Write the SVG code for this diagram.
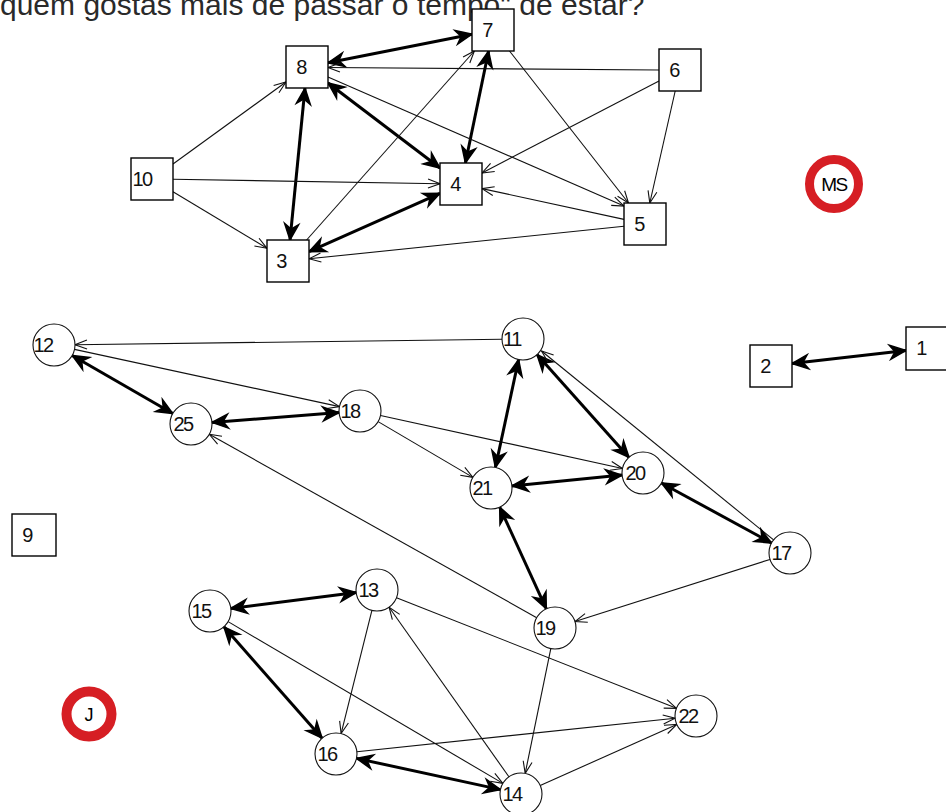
<svg xmlns="http://www.w3.org/2000/svg" width="946" height="812" viewBox="0 0 946 812">
<style>
.t{fill:none;stroke:#111;stroke-width:1.1}
.k{fill:none;stroke:#000;stroke-width:3}
.sq{fill:#fff;stroke:#000;stroke-width:1.4}
.ci{fill:#fff;stroke:#111;stroke-width:1.1}
.lb{font-family:"Liberation Sans",Arial,sans-serif;font-size:20px;fill:#111;text-anchor:middle;letter-spacing:-1.5px}
.red{fill:#fff;stroke:#d61e24}
.rl{font-family:"Liberation Sans",Arial,sans-serif;fill:#000;text-anchor:middle}
.title{font-family:"Liberation Sans",Arial,sans-serif;font-size:30px;fill:#2a2a2a}
</style>
<defs>
<marker id="ta" viewBox="-13 -6 14 12" refX="0" refY="0" markerWidth="14" markerHeight="12" markerUnits="userSpaceOnUse" orient="auto-start-reverse">
<path d="M-12,-4.5 L0,0 L-12,4.5" fill="none" stroke="#111" stroke-width="1.1"/>
</marker>
<marker id="ka" viewBox="-19 -9 20 18" refX="0" refY="0" markerWidth="20" markerHeight="18" markerUnits="userSpaceOnUse" orient="auto-start-reverse">
<path d="M-16,-7 L0,0 L-16,7 L-11,0 Z" fill="#000" stroke="#000" stroke-width="1.5"/>
</marker>
</defs>
<rect width="946" height="812" fill="#fff"/>
<text class="title" x="0" y="15">quem gostas mais de passar o tempo" de estar?</text>

<g id="connectors">
<line class="k" x1="328" y1="62.8" x2="472" y2="34.2" marker-start="url(#ka)" marker-end="url(#ka)"/>
<line class="t" x1="659" y1="70" x2="328" y2="67.5" marker-end="url(#ta)"/>
<line class="k" x1="328" y1="83" x2="440" y2="168" marker-start="url(#ka)" marker-end="url(#ka)"/>
<line class="k" x1="305" y1="88" x2="290" y2="240" marker-start="url(#ka)" marker-end="url(#ka)"/>
<line class="t" x1="173" y1="164" x2="286" y2="82" marker-end="url(#ta)"/>
<line class="t" x1="173" y1="179.3" x2="440" y2="183.7" marker-end="url(#ta)"/>
<line class="t" x1="173" y1="191.7" x2="267" y2="248.3" marker-end="url(#ta)"/>
<line class="k" x1="465.4" y1="163" x2="488.6" y2="51" marker-start="url(#ka)" marker-end="url(#ka)"/>
<line class="k" x1="309" y1="251.7" x2="440" y2="193.3" marker-start="url(#ka)" marker-end="url(#ka)"/>
<line class="t" x1="306.6" y1="240" x2="474.4" y2="51" marker-end="url(#ta)"/>
<line class="t" x1="509.5" y1="51" x2="628.5" y2="203" marker-end="url(#ta)"/>
<line class="t" x1="659" y1="80.9" x2="482" y2="173" marker-end="url(#ta)"/>
<line class="t" x1="675.2" y1="91" x2="649.8" y2="203" marker-end="url(#ta)"/>
<line class="t" x1="624" y1="219.4" x2="482" y2="188.6" marker-end="url(#ta)"/>
<line class="t" x1="624" y1="226.2" x2="309" y2="258.8" marker-end="url(#ta)"/>
<line class="t" x1="328" y1="77" x2="624" y2="206" marker-end="url(#ta)"/>
<line class="k" x1="792" y1="363.6" x2="906" y2="350.4" marker-start="url(#ka)" marker-end="url(#ka)"/>
<line class="t" x1="502" y1="339.3" x2="75" y2="344.7" marker-end="url(#ta)"/>
<line class="k" x1="72.2" y1="355.5" x2="172.8" y2="413.5" marker-start="url(#ka)" marker-end="url(#ka)"/>
<line class="t" x1="74.5" y1="349.4" x2="339.5" y2="406.6" marker-end="url(#ta)"/>
<line class="k" x1="212" y1="422.4" x2="339" y2="412.6" marker-start="url(#ka)" marker-end="url(#ka)"/>
<line class="t" x1="536.7" y1="617.7" x2="209.3" y2="434.3" marker-end="url(#ta)"/>
<line class="t" x1="378.1" y1="421.6" x2="472.9" y2="477.4" marker-end="url(#ta)"/>
<line class="t" x1="380.5" y1="415.5" x2="622.5" y2="468.5" marker-end="url(#ta)"/>
<line class="k" x1="518.6" y1="359.5" x2="495.4" y2="467.5" marker-start="url(#ka)" marker-end="url(#ka)"/>
<line class="k" x1="537" y1="354.6" x2="629" y2="457.4" marker-start="url(#ka)" marker-end="url(#ka)"/>
<line class="t" x1="773.6" y1="539.9" x2="541.5" y2="351" marker-end="url(#ta)"/>
<line class="k" x1="511.9" y1="485.9" x2="622.1" y2="475.1" marker-start="url(#ka)" marker-end="url(#ka)"/>
<line class="k" x1="661.4" y1="483" x2="771.6" y2="543" marker-start="url(#ka)" marker-end="url(#ka)"/>
<line class="k" x1="499.7" y1="507.1" x2="546.3" y2="608.9" marker-start="url(#ka)" marker-end="url(#ka)"/>
<line class="t" x1="770" y1="559.4" x2="575" y2="621.6" marker-end="url(#ta)"/>
<line class="k" x1="230.8" y1="608.4" x2="356.2" y2="592.6" marker-start="url(#ka)" marker-end="url(#ka)"/>
<line class="k" x1="223.9" y1="626.8" x2="322.1" y2="738.2" marker-start="url(#ka)" marker-end="url(#ka)"/>
<line class="t" x1="228.1" y1="621.6" x2="502.9" y2="783.4" marker-end="url(#ta)"/>
<line class="t" x1="371.9" y1="610.4" x2="341.1" y2="733.6" marker-end="url(#ta)"/>
<line class="t" x1="396.5" y1="597.7" x2="676.5" y2="708.3" marker-end="url(#ta)"/>
<line class="t" x1="508.9" y1="776.8" x2="389.1" y2="607.2" marker-end="url(#ta)"/>
<line class="t" x1="550.8" y1="648.6" x2="525.2" y2="773.4" marker-end="url(#ta)"/>
<line class="t" x1="356.9" y1="751.8" x2="675.1" y2="718.2" marker-end="url(#ta)"/>
<line class="t" x1="540.2" y1="785.5" x2="676.8" y2="724.5" marker-end="url(#ta)"/>
<line class="k" x1="356.5" y1="758.4" x2="500.5" y2="789.6" marker-start="url(#ka)" marker-end="url(#ka)"/>
</g>

<g id="n7"><rect class="sq" x="472" y="9" width="42" height="42"/><text class="lb" x="487" y="37">7</text></g>
<g id="n8"><rect class="sq" x="286" y="46" width="42" height="42"/><text class="lb" x="301" y="74">8</text></g>
<g id="n6"><rect class="sq" x="659" y="49" width="42" height="42"/><text class="lb" x="674" y="77">6</text></g>
<g id="n10"><rect class="sq" x="131" y="158" width="42" height="42"/><text class="lb" x="142" y="186">10</text></g>
<g id="n4"><rect class="sq" x="440" y="163" width="42" height="42"/><text class="lb" x="455" y="191">4</text></g>
<g id="n5"><rect class="sq" x="624" y="203" width="42" height="42"/><text class="lb" x="639" y="231">5</text></g>
<g id="n3"><rect class="sq" x="267" y="240" width="42" height="42"/><text class="lb" x="281" y="268">3</text></g>
<g id="n2"><rect class="sq" x="750" y="345" width="42" height="42"/><text class="lb" x="765" y="373">2</text></g>
<g id="n1"><rect class="sq" x="906" y="327" width="42" height="43"/><text class="lb" x="921" y="355">1</text></g>
<g id="n9"><rect class="sq" x="12" y="514" width="44" height="42"/><text class="lb" x="27" y="542">9</text></g>

<g id="n12"><circle class="ci" cx="54" cy="345" r="21"/><text class="lb" x="43" y="352">12</text></g>
<g id="n25"><circle class="ci" cx="191" cy="424" r="21"/><text class="lb" x="183" y="431">25</text></g>
<g id="n18"><circle class="ci" cx="360" cy="411" r="21"/><text class="lb" x="350" y="418">18</text></g>
<g id="n11"><circle class="ci" cx="523" cy="339" r="21"/><text class="lb" x="512" y="346">11</text></g>
<g id="n21"><circle class="ci" cx="491" cy="488" r="21"/><text class="lb" x="482" y="495">21</text></g>
<g id="n20"><circle class="ci" cx="643" cy="473" r="21"/><text class="lb" x="635" y="480">20</text></g>
<g id="n17"><circle class="ci" cx="790" cy="553" r="21"/><text class="lb" x="781" y="560">17</text></g>
<g id="n19"><circle class="ci" cx="555" cy="628" r="21"/><text class="lb" x="545" y="635">19</text></g>
<g id="n13"><circle class="ci" cx="377" cy="590" r="21"/><text class="lb" x="368" y="597">13</text></g>
<g id="n15"><circle class="ci" cx="210" cy="611" r="21"/><text class="lb" x="201" y="618">15</text></g>
<g id="n16"><circle class="ci" cx="336" cy="754" r="21"/><text class="lb" x="327" y="761">16</text></g>
<g id="n22"><circle class="ci" cx="696" cy="716" r="21"/><text class="lb" x="688" y="723">22</text></g>
<g id="n14"><circle class="ci" cx="521" cy="794" r="21"/><text class="lb" x="512" y="801">14</text></g>

<g id="nMS"><circle class="red" cx="834" cy="184" r="24.5" stroke-width="9"/><text class="rl" x="834" y="191" font-size="19" letter-spacing="-1.5">MS</text></g>
<g id="nJ"><circle class="red" cx="89" cy="714" r="22.5" stroke-width="10"/><text class="rl" x="89" y="721" font-size="18">J</text></g>
</svg>
